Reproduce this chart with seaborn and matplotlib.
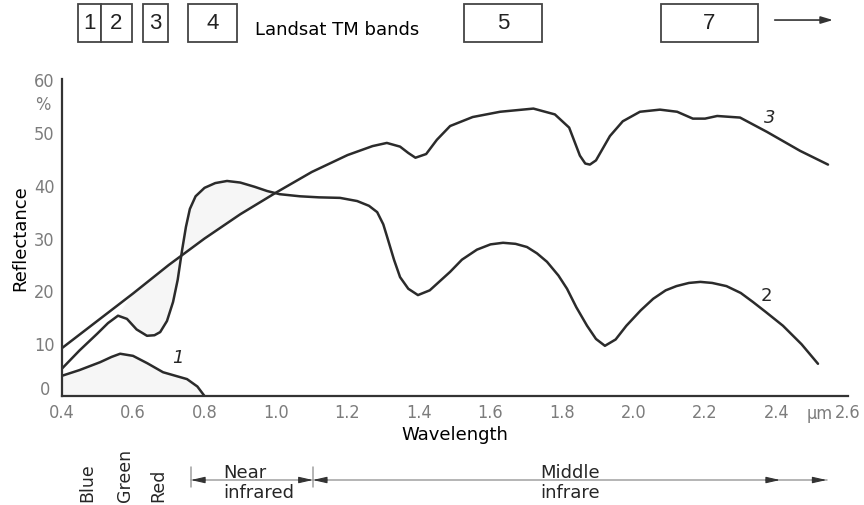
import numpy as np
import pandas as pd
import matplotlib
matplotlib.use("Agg")
import matplotlib.pyplot as plt
import seaborn as sns
from matplotlib.patches import Rectangle
from matplotlib.transforms import blended_transform_factory

# ---------------- data ----------------
water_x = [0.40, 0.45, 0.508, 0.54, 0.564, 0.60, 0.64, 0.684, 0.72, 0.751, 0.78, 0.80]
water_y = [3.8, 4.9, 6.4, 7.4, 8.0, 7.6, 6.2, 4.5, 3.8, 3.2, 1.8, 0.0]

veg_x = [0.40, 0.45, 0.50, 0.53, 0.558, 0.583, 0.61, 0.639, 0.66, 0.676, 0.695, 0.712,
         0.725, 0.737, 0.748, 0.759, 0.775, 0.80, 0.83, 0.863, 0.90, 0.94, 0.975, 1.01,
         1.067, 1.12, 1.179, 1.227, 1.26, 1.283, 1.30, 1.31, 1.33, 1.347, 1.37, 1.397,
         1.43, 1.487, 1.52, 1.562, 1.60, 1.635, 1.67, 1.702, 1.73, 1.758, 1.79, 1.814,
         1.84, 1.87, 1.895, 1.92, 1.95, 1.98, 2.02, 2.055, 2.09, 2.12, 2.155, 2.187,
         2.22, 2.26, 2.30, 2.334, 2.37, 2.418, 2.47, 2.516]
veg_y = [5.1, 8.6, 11.8, 13.8, 15.2, 14.6, 12.6, 11.4, 11.5, 12.1, 14.2, 17.8,
         22.0, 27.5, 32.0, 35.4, 37.8, 39.4, 40.3, 40.7, 40.4, 39.6, 38.8, 38.2,
         37.8, 37.6, 37.5, 36.9, 36.0, 34.8, 32.5, 30.3, 25.8, 22.5, 20.3, 19.1,
         20.0, 23.5, 25.8, 27.7, 28.7, 29.0, 28.8, 28.2, 27.0, 25.4, 22.8, 20.3,
         16.8, 13.3, 10.8, 9.5, 10.7, 13.3, 16.2, 18.4, 20.0, 20.8, 21.4, 21.6,
         21.4, 20.8, 19.5, 17.8, 15.9, 13.3, 9.8, 6.1]

soil_x = [0.40, 0.50, 0.60, 0.70, 0.80, 0.90, 1.00, 1.10, 1.20, 1.27, 1.31, 1.347,
          1.37, 1.39, 1.42, 1.45, 1.487, 1.55, 1.627, 1.72, 1.78, 1.82, 1.85, 1.865,
          1.878, 1.895, 1.934, 1.97, 2.018, 2.074, 2.122, 2.166, 2.20, 2.234, 2.298,
          2.373, 2.466, 2.544]
soil_y = [9.0, 14.2, 19.4, 24.8, 29.8, 34.4, 38.5, 42.4, 45.6, 47.3, 47.9, 47.2,
          46.0, 45.1, 45.8, 48.5, 51.1, 52.8, 53.8, 54.4, 53.3, 50.8, 45.5, 44.0,
          43.8, 44.6, 49.2, 52.0, 53.8, 54.2, 53.8, 52.5, 52.5, 53.0, 52.7,
          50.0, 46.4, 43.8]

curve_names = ["1", "2", "3"]

band_labels = ["1", "2", "3", "4", "5", "7"]
band_start = [0.446, 0.510, 0.628, 0.754, 1.526, 2.077]
band_end = [0.510, 0.597, 0.698, 0.891, 1.744, 2.348]

visible_labels = ["Blue", "Green", "Red"]
near_ir_range = [0.762, 1.103]
mid_ir_range = [1.103, 2.54]

x_ticks = [0.4, 0.6, 0.8, 1.0, 1.2, 1.4, 1.6, 1.8, 2.0, 2.2, 2.4, 2.6]
y_ticks = [0, 10, 20, 30, 40, 50, 60]

# ---------------- style ----------------
sns.set_theme(style="white")
plt.rcParams["font.family"] = ["DejaVu Sans"]
NARROW = ["DejaVu Sans Condensed", "Liberation Sans Narrow", "DejaVu Sans"]
LINE = "#2b2b2b"
GREY = "#7c7c7c"
SHADE = "#f6f6f6"

fig = plt.figure(figsize=(8.64, 5.06), dpi=100)
ax = fig.add_axes([0.0712, 0.2154, 0.9103, 0.6265])
ax.set_facecolor("white")

df = pd.concat([
    pd.DataFrame({"wl": water_x, "refl": water_y, "curve": curve_names[0]}),
    pd.DataFrame({"wl": veg_x, "refl": veg_y, "curve": curve_names[1]}),
    pd.DataFrame({"wl": soil_x, "refl": soil_y, "curve": curve_names[2]}),
])

# faint shading
ax.fill_between(water_x, water_y, 0, color=SHADE, zorder=0, lw=0)
vx = np.array(veg_x); vy = np.array(veg_y)
sx = np.array(soil_x); sy = np.array(soil_y)
mv = (vx >= 0.558) & (vx <= 0.975)
ms = (sx >= 0.55) & (sx <= 1.0)
poly_x = np.concatenate([vx[mv], sx[ms][::-1]])
poly_y = np.concatenate([vy[mv], sy[ms][::-1]])
ax.fill(poly_x, poly_y, color=SHADE, zorder=0, lw=0)

sns.lineplot(data=df, x="wl", y="refl", hue="curve",
             palette={c: LINE for c in curve_names}, estimator=None,
             legend=False, ax=ax, linewidth=1.8, sort=False)

ax.set_xlim(0.4, 2.6)
ax.set_ylim(0, 60)
ax.set_xticks(x_ticks)
ax.set_xticklabels([f"{v:.1f}" for v in x_ticks])
ax.set_xticks(np.arange(0.5, 2.6, 0.2), minor=True)
ax.set_yticks(y_ticks)
ax.set_yticklabels([""] + [str(v) for v in y_ticks[1:]])
ax.tick_params(axis="both", which="both", direction="in", length=8.5, width=1.2,
               color="#444444", labelcolor=GREY, labelsize=13, pad=5)
for lab in ax.get_xticklabels() + ax.get_yticklabels():
    lab.set_family(NARROW)
    lab.set_stretch("condensed")

# the "0" of the y axis, set just left of the corner
ax.annotate(str(y_ticks[0]), xy=(0, 0), xycoords="axes fraction", xytext=(-8, -1.5),
            textcoords="offset points", ha="right", va="bottom", color=GREY,
            fontsize=13, family=NARROW, stretch="condensed")

for s in ["top", "right"]:
    ax.spines[s].set_visible(False)
for s in ["left", "bottom"]:
    ax.spines[s].set_color("#333333")
    ax.spines[s].set_linewidth(1.6)

ax.set_xlabel("")
ax.set_ylabel("")
ax.text(0.5, -0.092, "Wavelength", transform=ax.transAxes, ha="center", va="top",
        fontsize=13, color="black")
ax.text(-0.053, 0.5, "Reflectance", transform=ax.transAxes, ha="center", va="center",
        rotation=90, fontsize=13, color="black")

tb = blended_transform_factory(ax.transData, ax.transAxes)
ax.text(2.522, -0.025, "µm", transform=tb, ha="center", va="top", color=GREY,
        fontsize=13, family=NARROW, stretch="condensed")
ax.text(0.348, 55.3, "%", ha="center", va="center", color=GREY, fontsize=13,
        family=NARROW, stretch="condensed", clip_on=False)

# curve labels
ax.text(0.726, 7.4, curve_names[0], fontsize=13, style="italic", ha="center", va="center")
ax.text(2.373, 19.1, curve_names[1], fontsize=13, ha="center", va="center")
ax.text(2.382, 52.8, curve_names[2], fontsize=13, style="italic", ha="center", va="center")

# Landsat TM band boxes
box_y0, box_h = 1.117, 0.12
for lab, s, e in zip(band_labels, band_start, band_end):
    ax.add_patch(Rectangle((s, box_y0), e - s, box_h, transform=tb, clip_on=False,
                           facecolor="white", edgecolor="#444444", lw=1.3))
    ax.text((s + e) / 2, box_y0 + box_h / 2, lab, transform=tb, ha="center",
            va="center", fontsize=16, family=["Liberation Sans", "DejaVu Sans"],
            color="#222222")
ax.text(0.941, 1.142, "Landsat TM bands", transform=tb, ha="left", va="baseline",
        fontsize=13, color="black")
ax.annotate("", xy=(2.558, 1.186), xytext=(2.395, 1.186), xycoords=tb, textcoords=tb,
            arrowprops=dict(arrowstyle="-|>,head_length=0.6,head_width=0.18",
                            color="#333333", lw=1.2, shrinkA=0, shrinkB=0))

# spectral regions below the axis
ya = -0.265
ax.plot([near_ir_range[0], mid_ir_range[1]], [ya, ya], transform=tb, clip_on=False,
        color="#a0a0a0", lw=1.1)
for xv in [near_ir_range[0], near_ir_range[1]]:
    ax.plot([xv, xv], [-0.224, -0.287], transform=tb, clip_on=False,
            color="#a0a0a0", lw=1.1)
arrow_style = dict(arrowstyle="-|>,head_length=0.7,head_width=0.16",
                   color="#333333", lw=0.8, shrinkA=0, shrinkB=0)
for tip, tail in [(near_ir_range[0], near_ir_range[0] + 0.04),
                  (near_ir_range[1], near_ir_range[1] - 0.04),
                  (mid_ir_range[0], mid_ir_range[0] + 0.04),
                  (2.41, 2.37),
                  (mid_ir_range[1], mid_ir_range[1] - 0.04)]:
    ax.annotate("", xy=(tip, ya), xytext=(tail, ya), xycoords=tb, textcoords=tb,
                arrowprops=arrow_style)

ax.text(0.852, -0.27, "Near\ninfrared", transform=tb, ha="left", va="center",
        fontsize=13, linespacing=1.15)
ax.text(1.738, -0.27, "Middle\ninfrare", transform=tb, ha="left", va="center",
        fontsize=13, linespacing=1.15)
for lab, xv in zip(visible_labels, [0.471, 0.578, 0.671]):
    ax.text(xv, -0.331, lab, transform=tb, ha="center", va="bottom", rotation=90,
            fontsize=12.5)

fig.savefig("out.png", dpi=100)
